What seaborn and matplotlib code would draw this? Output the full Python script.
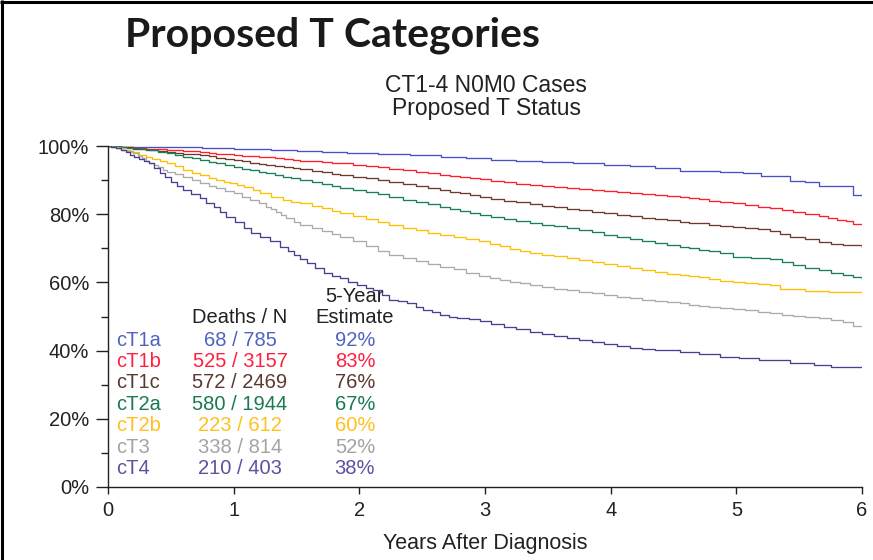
import numpy as np
import pandas as pd
import matplotlib
matplotlib.use("Agg")
import matplotlib.pyplot as plt
from matplotlib.lines import Line2D
from matplotlib.ticker import MultipleLocator, FuncFormatter
import seaborn as sns

# ---- data -------------------------------------------------------------
groups = ["cT1a", "cT1b", "cT1c", "cT2a", "cT2b", "cT3", "cT4"]
deaths = [68, 525, 572, 580, 223, 338, 210]
cases = [785, 3157, 2469, 1944, 612, 814, 403]
five_year = [92, 83, 76, 67, 60, 52, 38]

line_colors = ["#4A50C2", "#FF1E2A", "#6E3B2A", "#17805A", "#FFC000", "#ABABAB", "#4B3F8F"]
text_colors = ["#5062C2", "#FF2040", "#5A3A30", "#1A7A50", "#FFC020", "#A3A3A3", "#6050A0"]

# Kaplan-Meier survival (%), years after diagnosis
t_t1a = [0, 0.10, 0.30, 0.50, 0.75, 1.00, 1.15, 1.30, 1.50, 1.70, 1.90, 2.15, 2.40, 2.65,
         2.85, 3.05, 3.25, 3.45, 3.70, 3.95, 4.15, 4.35, 4.55, 4.87, 5.05, 5.20, 5.43,
         5.55, 5.66, 5.93, 6.00]
s_t1a = [100, 99.8, 99.7, 99.6, 99.4, 99.2, 99.0, 98.8, 98.4, 98.1, 97.9, 97.7, 97.3, 96.9,
         96.4, 96.0, 95.7, 95.2, 94.9, 94.5, 94.0, 93.5, 92.8, 92.3, 92.0, 91.2, 89.8,
         89.4, 88.3, 85.5, 85.5]

t_t1b = [0, 0.10, 0.20, 0.30, 0.40, 0.47, 0.60, 0.73, 0.80, 0.86, 0.93, 1.00, 1.07, 1.13,
         1.20, 1.26, 1.33, 1.40, 1.47, 1.53, 1.62, 1.70, 1.78, 1.85, 1.95, 2.05, 2.15,
         2.24, 2.35, 2.45, 2.55, 2.64, 2.72, 2.80, 2.88, 2.96, 3.05, 3.15, 3.25, 3.36,
         3.45, 3.55, 3.65, 3.75, 3.85, 3.95, 4.05, 4.15, 4.25, 4.35, 4.45, 4.55, 4.62,
         4.70, 4.78, 4.87, 4.97, 5.07, 5.17, 5.27, 5.36, 5.45, 5.55, 5.66, 5.73, 5.80,
         5.87, 5.93, 6.00]
s_t1b = [100, 99.8, 99.5, 99.2, 99.0, 98.8, 98.5, 98.3, 98.0, 97.8, 97.6, 97.4, 97.2, 97.0,
         96.9, 96.7, 96.4, 96.2, 95.9, 95.7, 95.5, 95.3, 95.1, 94.9, 94.5, 94.1, 93.8,
         93.4, 92.9, 92.4, 92.0, 91.5, 91.2, 90.9, 90.6, 90.2, 89.8, 89.4, 89.0, 88.6,
         88.3, 87.9, 87.6, 87.3, 87.0, 86.7, 86.4, 86.1, 85.9, 85.6, 85.3, 85.0, 84.7,
         84.4, 84.0, 83.6, 83.2, 82.7, 82.2, 81.7, 81.2, 80.7, 80.1, 79.5, 78.9, 78.3,
         78.0, 77.2, 77.2]

t_t1c = [0, 0.10, 0.20, 0.30, 0.40, 0.47, 0.53, 0.60, 0.67, 0.73, 0.80, 0.86, 0.93, 1.00,
         1.07, 1.13, 1.20, 1.26, 1.33, 1.40, 1.47, 1.53, 1.62, 1.70, 1.78, 1.85, 1.95,
         2.05, 2.15, 2.24, 2.35, 2.45, 2.55, 2.64, 2.72, 2.80, 2.88, 2.96, 3.05, 3.15,
         3.25, 3.36, 3.45, 3.55, 3.65, 3.75, 3.85, 3.95, 4.05, 4.15, 4.25, 4.35, 4.45,
         4.55, 4.62, 4.70, 4.78, 4.87, 4.97, 5.07, 5.17, 5.27, 5.35, 5.43, 5.55, 5.66,
         5.75, 5.85, 6.00]
s_t1c = [100, 99.6, 99.2, 98.9, 98.6, 98.3, 98.0, 97.8, 97.6, 97.4, 97.0, 96.6, 96.2, 95.9,
         95.5, 95.1, 94.8, 94.4, 94.1, 93.8, 93.5, 93.2, 92.7, 92.3, 91.9, 91.5, 91.0,
         90.5, 90.0, 89.5, 88.9, 88.3, 87.7, 87.1, 86.6, 86.1, 85.6, 85.1, 84.5, 84.0,
         83.5, 83.0, 82.5, 82.1, 81.6, 81.2, 80.7, 80.3, 79.9, 79.5, 79.0, 78.6, 78.2,
         77.8, 77.5, 77.3, 76.9, 76.4, 76.2, 76.0, 75.6, 75.2, 74.2, 73.4, 72.8, 71.9,
         71.4, 70.9, 70.1]

t_t2a = [0, 0.05, 0.10, 0.15, 0.20, 0.27, 0.33, 0.40, 0.47, 0.53, 0.60, 0.67, 0.73, 0.80,
         0.86, 0.93, 1.00, 1.07, 1.13, 1.20, 1.26, 1.33, 1.39, 1.46, 1.53, 1.62, 1.70,
         1.78, 1.85, 1.95, 2.05, 2.15, 2.24, 2.35, 2.45, 2.55, 2.64, 2.72, 2.80, 2.88,
         2.96, 3.05, 3.15, 3.25, 3.36, 3.45, 3.55, 3.65, 3.75, 3.85, 3.95, 4.05, 4.15,
         4.25, 4.35, 4.45, 4.55, 4.62, 4.70, 4.78, 4.87, 4.97, 5.12, 5.27, 5.36, 5.45,
         5.55, 5.66, 5.75, 5.85, 5.93, 6.00]
s_t2a = [100, 99.9, 99.8, 99.5, 99.3, 99.0, 98.8, 98.3, 97.9, 97.4, 96.9, 96.4, 95.9, 95.4,
         94.9, 94.4, 93.9, 93.4, 93.0, 92.5, 92.0, 91.5, 91.0, 90.5, 90.0, 89.4, 88.8,
         88.2, 87.6, 87.0, 86.4, 85.8, 85.1, 84.3, 83.6, 82.9, 82.2, 81.6, 81.0, 80.4,
         79.8, 79.1, 78.5, 77.9, 77.3, 76.9, 76.4, 75.9, 75.4, 74.7, 74.0, 73.3, 72.6,
         72.0, 71.5, 71.0, 70.5, 70.0, 69.6, 69.1, 68.7, 67.4, 67.1, 66.8, 65.9, 65.0,
         64.3, 63.6, 62.9, 62.2, 61.5, 60.9]

t_t2b = [0, 0.02, 0.07, 0.12, 0.18, 0.25, 0.30, 0.35, 0.41, 0.47, 0.53, 0.60, 0.67, 0.73,
         0.80, 0.86, 0.92, 0.97, 1.03, 1.08, 1.15, 1.21, 1.30, 1.39, 1.46, 1.53, 1.62,
         1.70, 1.78, 1.85, 1.95, 2.05, 2.15, 2.24, 2.35, 2.45, 2.55, 2.64, 2.75, 2.85,
         2.95, 3.04, 3.12, 3.20, 3.28, 3.36, 3.45, 3.55, 3.65, 3.75, 3.85, 3.95, 4.05,
         4.15, 4.25, 4.35, 4.45, 4.55, 4.62, 4.70, 4.78, 4.87, 4.97, 5.07, 5.17, 5.27,
         5.35, 5.55, 5.74, 6.00]
s_t2b = [100, 99.8, 99.3, 98.8, 98.1, 97.4, 96.8, 96.2, 95.6, 94.9, 94.0, 93.0, 92.2, 91.5,
         90.7, 90.0, 89.5, 89.1, 88.6, 88.1, 87.1, 86.1, 85.1, 84.2, 83.7, 83.2, 82.5,
         81.8, 81.0, 80.3, 79.4, 78.5, 77.6, 76.8, 76.0, 75.3, 74.6, 73.9, 73.2, 72.6,
         72.0, 71.3, 70.6, 69.8, 69.1, 68.5, 68.0, 67.6, 67.1, 66.6, 65.9, 65.3, 64.7,
         64.1, 63.6, 63.1, 62.6, 62.2, 61.8, 61.5, 61.1, 60.4, 60.1, 59.9, 59.5, 59.2,
         58.0, 57.6, 57.3, 57.1]

t_t3 = [0, 0.02, 0.06, 0.10, 0.15, 0.20, 0.24, 0.27, 0.30, 0.33, 0.37, 0.40, 0.44, 0.47,
        0.53, 0.60, 0.67, 0.73, 0.80, 0.86, 0.93, 1.00, 1.07, 1.13, 1.20, 1.26, 1.30,
        1.34, 1.38, 1.42, 1.48, 1.53, 1.62, 1.70, 1.78, 1.85, 1.95, 2.05, 2.15, 2.24,
        2.35, 2.45, 2.55, 2.64, 2.75, 2.85, 2.95, 3.04, 3.12, 3.20, 3.28, 3.36, 3.45,
        3.55, 3.65, 3.75, 3.85, 3.95, 4.05, 4.15, 4.25, 4.35, 4.45, 4.55, 4.62, 4.70,
        4.78, 4.87, 4.97, 5.07, 5.17, 5.27, 5.36, 5.45, 5.55, 5.66, 5.75, 5.85, 5.93,
        6.00]
s_t3 = [100, 99.8, 99.4, 98.9, 98.4, 97.9, 97.2, 96.4, 95.6, 94.9, 94.3, 93.7, 93.1, 92.5,
        91.8, 91.0, 90.0, 89.1, 88.3, 87.6, 86.8, 86.1, 85.1, 84.2, 83.2, 82.2, 81.4,
        80.5, 79.7, 78.8, 77.8, 76.8, 75.9, 75.0, 74.2, 73.4, 72.0, 70.7, 69.3, 68.0,
        67.1, 66.3, 65.4, 64.6, 63.8, 62.9, 62.0, 61.2, 60.7, 60.2, 59.7, 59.2, 58.7,
        58.2, 57.8, 57.3, 56.8, 56.3, 55.8, 55.3, 54.9, 54.6, 54.2, 53.9, 53.5, 53.2,
        52.8, 52.4, 52.1, 51.9, 51.4, 50.9, 50.5, 50.2, 49.8, 49.5, 49.0, 48.5, 47.2,
        47.1]

t_t4 = [0, 0.02, 0.06, 0.10, 0.14, 0.175, 0.21, 0.25, 0.29, 0.33, 0.37, 0.41, 0.45, 0.50,
        0.55, 0.60, 0.66, 0.73, 0.78, 0.84, 0.89, 0.94, 1.01, 1.08, 1.14, 1.21, 1.29,
        1.37, 1.43, 1.48, 1.53, 1.58, 1.65, 1.72, 1.78, 1.85, 1.91, 1.98, 2.05, 2.11,
        2.18, 2.24, 2.31, 2.38, 2.45, 2.51, 2.58, 2.64, 2.71, 2.78, 2.87, 2.96, 3.05,
        3.15, 3.25, 3.36, 3.45, 3.55, 3.65, 3.75, 3.85, 3.95, 4.05, 4.15, 4.25, 4.35,
        4.55, 4.70, 4.87, 5.02, 5.18, 5.43, 5.62, 5.75, 6.00]
s_t4 = [100, 99.8, 99.3, 98.8, 98.1, 97.4, 96.8, 96.2, 95.6, 94.9, 93.5, 92.0, 90.8, 89.5,
        88.3, 87.1, 85.9, 84.7, 83.3, 82.0, 80.6, 79.3, 77.6, 75.9, 74.6, 73.4, 72.0,
        70.5, 69.3, 68.0, 66.8, 65.6, 64.1, 62.7, 62.0, 61.2, 60.2, 59.2, 58.5, 57.8,
        56.3, 54.8, 54.4, 53.9, 52.9, 51.9, 51.2, 50.4, 50.0, 49.5, 49.2, 48.8, 47.9,
        47.0, 46.2, 45.5, 44.9, 44.3, 43.7, 43.1, 42.5, 41.9, 41.3, 40.7, 40.5, 40.2,
        39.7, 39.1, 38.2, 37.8, 37.2, 36.5, 35.8, 35.1, 35.1]

times = [t_t1a, t_t1b, t_t1c, t_t2a, t_t2b, t_t3, t_t4]
survival = [s_t1a, s_t1b, s_t1c, s_t2a, s_t2b, s_t3, s_t4]

x_ticks = [0, 1, 2, 3, 4, 5, 6]
y_ticks = [0, 20, 40, 60, 80, 100]

# ---- figure -----------------------------------------------------------
sns.set_theme(style="white")
plt.rcParams["font.family"] = ["Liberation Sans", "DejaVu Sans"]

W, H = 873, 560
fig = plt.figure(figsize=(W / 100, H / 100), dpi=100)
fig.patch.set_facecolor("white")

ax = fig.add_axes([108 / W, 1 - 487 / H, (862 - 108) / W, (487 - 146) / H])

df = pd.concat(
    [pd.DataFrame({"years": t, "survival": s, "group": g})
     for g, t, s in zip(groups, times, survival)],
    ignore_index=True,
)

sns.lineplot(
    data=df, x="years", y="survival", hue="group", hue_order=groups,
    palette=dict(zip(groups, line_colors)), estimator=None, sort=False,
    drawstyle="steps-post", linewidth=0.95, legend=False, ax=ax,
)

ax.set_xlim(0, 6)
ax.set_ylim(0, 100)
ax.set_xticks(x_ticks)
ax.set_yticks(y_ticks)
ax.yaxis.set_minor_locator(MultipleLocator(10))
ax.yaxis.set_major_formatter(FuncFormatter(lambda v, _: f"{int(v)}%"))
ax.set_ylabel("")
ax.set_xlabel("Years After Diagnosis", fontsize=15.5, color="#222222", va="center")
ax.xaxis.set_label_coords(0.5, (487 - 544) / (487 - 146))

for side in ("top", "right"):
    ax.spines[side].set_visible(False)
for side in ("left", "bottom"):
    ax.spines[side].set_color("#222222")
    ax.spines[side].set_linewidth(1.0)

ax.tick_params(axis="y", which="major", direction="out", length=8.5, width=1,
               color="#222222", labelsize=14.5, labelcolor="#222222", pad=5, left=True)
ax.tick_params(axis="y", which="minor", direction="out", length=5, width=1,
               color="#222222", left=True)
ax.tick_params(axis="x", which="major", direction="out", length=5, width=1,
               color="#222222", labelsize=14.5, labelcolor="#222222", pad=5, bottom=True)
ax.grid(False)

# ---- summary table ----------------------------------------------------
row0, row_step = 43.1, 6.3
col_label, col_deaths, col_est = 0.064, 1.05, 1.965
tfs = 14.5
ax.text(col_est, 56.0, "5-Year", ha="center", va="center", fontsize=tfs, color="#222222")
ax.text(col_deaths, 49.6, "Deaths / N", ha="center", va="center", fontsize=tfs, color="#222222")
ax.text(col_est, 49.6, "Estimate", ha="center", va="center", fontsize=tfs, color="#222222")
for i, (g, d, n, e, c) in enumerate(zip(groups, deaths, cases, five_year, text_colors)):
    y = row0 - i * row_step
    ax.text(col_label, y, g, ha="left", va="center", fontsize=tfs, color=c)
    ax.text(col_deaths, y, f"{d} / {n}", ha="center", va="center", fontsize=tfs, color=c)
    ax.text(col_est, y, f"{e}%", ha="center", va="center", fontsize=tfs, color=c)

# ---- titles -----------------------------------------------------------
fig.text(125 / W, 1 - 47 / H, "Proposed T Categories", ha="left", va="baseline",
         fontsize=29.5, fontweight="bold", color="#1a1a1a", family=["Lato", "DejaVu Sans"])
fig.text(486 / W, 1 - 86 / H, "CT1-4 N0M0 Cases", ha="center", va="center",
         fontsize=16.5, color="#222222")
fig.text(486 / W, 1 - 108 / H, "Proposed T Status", ha="center", va="center",
         fontsize=16.5, color="#222222")

# slide frame (top and left edges)
fig.add_artist(Line2D([0, 1], [1 - 2 / H, 1 - 2 / H], transform=fig.transFigure,
                      color="black", linewidth=2.2, solid_capstyle="butt"))
fig.add_artist(Line2D([2 / W, 2 / W], [0, 1], transform=fig.transFigure,
                      color="black", linewidth=2.2, solid_capstyle="butt"))

fig.savefig("out.png", dpi=100, facecolor="white")
